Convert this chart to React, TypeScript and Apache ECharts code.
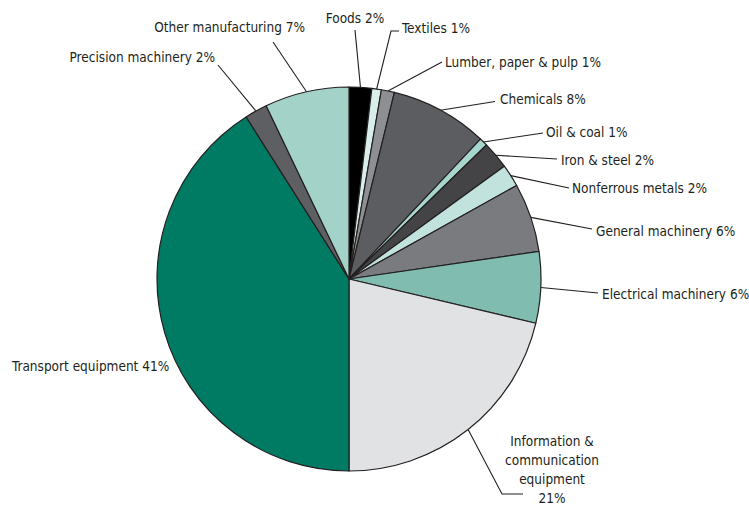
import React, { useEffect, useRef } from "react";
import * as echarts from "echarts";

const CATEGORIES = [
  "Foods",
  "Textiles",
  "Lumber, paper & pulp",
  "Chemicals",
  "Oil & coal",
  "Iron & steel",
  "Nonferrous metals",
  "General machinery",
  "Electrical machinery",
  "Information &\ncommunication\nequipment",
  "Transport equipment",
  "Precision machinery",
  "Other manufacturing",
];

const SHARES = [1.9, 0.8, 1.1, 8.2, 0.7, 2.3, 1.9, 5.8, 6.0, 21.3, 41.0, 1.9, 7.1];

const COLORS = [
  "#000000",
  "#d9eeea",
  "#8e8f92",
  "#5c5d60",
  "#a6d6cd",
  "#444446",
  "#c2e3dd",
  "#7a7b7e",
  "#80bdb0",
  "#e1e2e4",
  "#007b63",
  "#5e5f63",
  "#a3d2c9",
];

// label placement (layout only)
type Pos = { x: number; y: number; align: string; line: number[][] | null };
const LABEL_POS: Pos[] = [
  { x: 355, y: 18, align: "center", line: [[355, 30]] },
  { x: 402, y: 28, align: "left", line: [[391, 31], [399, 31]] },
  { x: 445, y: 62, align: "left", line: [[442, 62]] },
  { x: 500, y: 99, align: "left", line: [[495, 101.5]] },
  { x: 546, y: 132, align: "left", line: [[543, 133]] },
  { x: 561, y: 160, align: "left", line: [[557, 159]] },
  { x: 572, y: 188, align: "left", line: [[569, 188]] },
  { x: 596, y: 231, align: "left", line: [[592, 229]] },
  { x: 602, y: 294, align: "left", line: [[598, 293]] },
  { x: 552, y: 469, align: "center", line: [[502, 494], [523, 494]] },
  { x: 12, y: 366, align: "left", line: null },
  { x: 215, y: 57, align: "right", line: [[218, 65]] },
  { x: 305, y: 27, align: "right", line: [[273, 42]] },
];

export default function App() {
  const ref = useRef<HTMLDivElement>(null);

  useEffect(() => {
    if (!ref.current) return;
    const chart = echarts.init(ref.current, null, { renderer: "svg" });
    const data = CATEGORIES.map((name, i) => ({
      name,
      value: SHARES[i],
      itemStyle: { color: COLORS[i] },
      labelLine: { show: LABEL_POS[i].line !== null },
    }));
    chart.setOption({
      animation: false,
      backgroundColor: "#ffffff",
      series: [
        {
          type: "pie",
          center: [349, 279],
          radius: [0, 192],
          startAngle: 90,
          clockwise: true,
          avoidLabelOverlap: false,
          data,
          itemStyle: { borderColor: "#231f20", borderWidth: 1.2 },
          label: {
            show: true,
            position: "outside",
            color: "#231f20",
            fontSize: 13.5,
            lineHeight: 19,
            fontFamily: "'DejaVu Sans Condensed', 'DejaVu Sans', sans-serif",
            formatter: (p: any) => {
              const pct = Math.round(p.value) + "%";
              return p.name.indexOf("\n") >= 0 ? p.name + "\n" + pct : p.name + " " + pct;
            },
          },
          labelLine: {
            show: true,
            length: 10,
            length2: 0,
            lineStyle: { color: "#231f20", width: 1.1 },
          },
          labelLayout: (params: any) => {
            const pos = LABEL_POS[params.dataIndex];
            const out: any = {
              x: pos.x,
              y: pos.y,
              align: pos.align,
              verticalAlign: "middle",
            };
            if (pos.line && params.labelLinePoints) {
              const start = params.labelLinePoints[0];
              const pts = [[start[0], start[1]], ...pos.line.map((p) => [p[0], p[1]])];
              while (pts.length < 3) pts.push([pts[pts.length - 1][0], pts[pts.length - 1][1]]);
              out.labelLinePoints = pts;
            }
            return out;
          },
        },
      ],
    });
    return () => chart.dispose();
  }, []);

  return (
    <div
      ref={ref}
      style={{ position: "fixed", left: 0, top: 0, width: 749, height: 511, background: "#fff" }}
    />
  );
}
